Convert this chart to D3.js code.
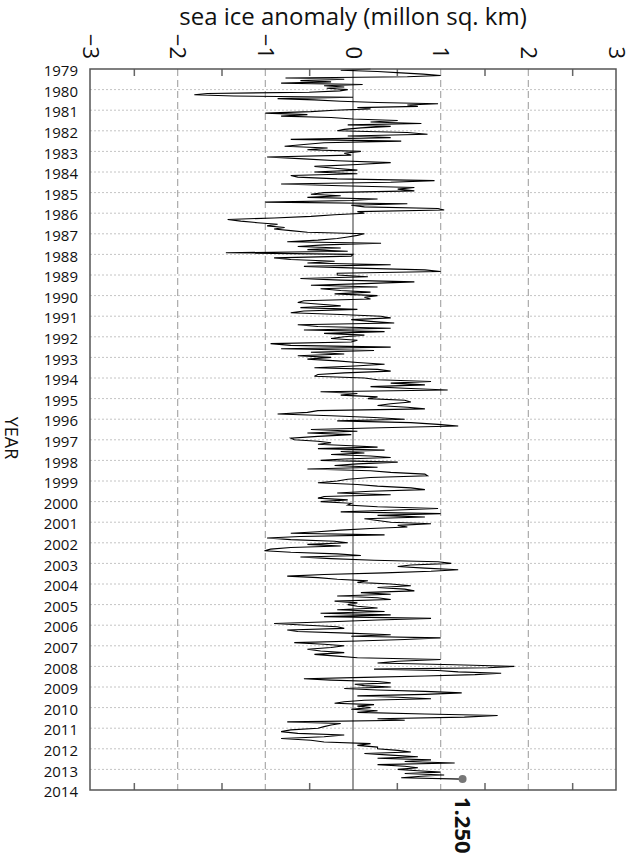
<!DOCTYPE html>
<html>
<head>
<meta charset="utf-8">
<script src="https://cdn.jsdelivr.net/npm/d3@7"></script>
<style>
    body { margin: 0; background: #fff; }
    text { font-family: "Open Sans", sans-serif; fill: #111; }
</style>
</head>
<body>
<div id="chart-area"></div>
<script>
// Anomaly readings per year (million sq. km), in time order
var v1979 = [0.2, -0.14, 0.28, 0.55, 0.8, 1.0, 0.62, -0.77, -0.1, -0.6, -0.25, -0.82, 0.11, -0.33, -0.1, -0.3];
var v1980 = [-0.06, -0.15, -0.5, -1.66, -1.81, -1.36, 0.0, -0.86, -0.44, -0.14, 0.28, 0.97, 0.62, 0.74, 0.05, 0.2];
var v1981 = [-0.21, -0.48, -1.0, -0.52, -0.82, -0.25, 0.0, 0.51, 0.2, 0.78, -0.06, 0.43, 0.09, -0.1];
var v1982 = [-0.18, 0.62, 0.85, -0.06, 0.43, -0.71, 0.55, -0.33, -0.56, -0.78, -0.29, -0.52];
var v1983 = [0.09, -0.1, -0.02, -0.98, -0.56, -0.18, 0.43, 0.05, -0.44, -0.21, 0.05];
var v1984 = [-0.44, 0.05, -0.71, -0.63, -0.18, 0.93, 0.43, -0.82, -0.14, 0.7, 0.51, 0.7];
var v1985 = [-0.33, -0.48, -0.14, -0.52, 0.28, -0.02, -1.0, 0.62, -0.02, 0.13, 0.97, 1.04, 0.05];
var v1986 = [0.13, -0.21, -0.48, -0.9, -1.43, -1.28, -1.09, -0.86, -0.98, -0.78, -0.9, -0.71, -0.52];
var v1987 = [0.13, 0.05, -0.06, -0.18, -0.4, -0.75, 0.32, -0.33, -0.63, -0.14, -0.52, -0.06, -1.45];
var v1988 = [0.0, -0.02, -0.9, -0.71, -0.21, -0.52, 0.43, -0.56, 0.05, 0.82, 1.0, -0.18];
var v1989 = [-0.18, 0.17, -0.6, -0.14, 0.7, 0.13, -0.48, 0.28, -0.37, -0.14, 0.2, -0.21];
var v1990 = [0.28, 0.13, 0.2, -0.56, -0.63, -0.37, -0.14, -0.6, 0.05, -0.56, -0.71, -0.14];
var v1991 = [0.32, 0.43, -0.02, 0.2, 0.47, -0.63, -0.4, 0.43, -0.56, 0.36, -0.33, 0.13];
var v1992 = [-0.1, -0.25, 0.05, -0.02, -0.94, -0.71, 0.43, -0.82, 0.24, -0.48, -0.1, -0.63];
var v1993 = [-0.25, -0.52, -0.18, 0.05, 0.36, 0.02, -0.44, 0.28, 0.43, -0.1, -0.4, -0.44];
var v1994 = [0.13, 0.28, 0.89, 0.43, 0.82, 0.2, 0.59, 1.08, -0.37, 0.05, -0.14, 0.28];
var v1995 = [0.17, 0.59, 0.66, 0.43, 0.28, 0.62, 0.82, -0.4, -0.52, -0.86, -0.25, 0.24];
var v1996 = [0.59, -0.18, 0.66, 0.97, 1.2, 0.32, -0.48, 0.05, -0.52, -0.02, -0.4, -0.71];
var v1997 = [-0.67, -0.4, -0.25, -0.4, -0.02, 0.28, -0.4, 0.36, -0.14, 0.13, -0.25, 0.2, 0.43, -0.1];
var v1998 = [-0.37, 0.51, 0.05, -0.21, 0.28, -0.52, 0.2, 0.43, 0.82, 0.85, 0.2, -0.06];
var v1999 = [-0.18, -0.4, 0.05, 0.28, 0.66, 0.82, 0.2, -0.18, 0.43, -0.33, -0.4, -0.06];
var v2000 = [-0.37, -0.02, -0.06, 0.28, 0.97, 0.43, -0.14, 1.0, 0.28, 0.82, 0.13, 0.28];
var v2001 = [0.43, 0.89, 0.51, 0.62, 0.2, -0.14, -0.4, -0.71, 0.36, -0.6, -0.98, -0.71, -0.21];
var v2002 = [-0.06, -0.52, -0.14, -0.71, -0.94, -1.01, -0.71, -0.18, 0.09, -0.6, -0.25, 0.24, 0.97];
var v2003 = [1.12, 0.66, 0.51, 0.82, 1.2, 0.89, 0.36, -0.33, -0.75, -0.4, -0.18, 0.17, 0.05];
var v2004 = [0.43, 0.66, 0.28, 0.59, 0.7, 0.09, 0.43, -0.18, 0.28, 0.43, -0.21, 0.05];
var v2005 = [-0.06, 0.05, 0.28, -0.18, 0.36, -0.37, 0.43, -0.33, 0.89, 0.28, -0.25, -0.9];
var v2006 = [-0.52, -0.18, -0.1, -0.75, -0.63, -0.06, 0.43, -0.02, 1.0, 0.59, 0.05, -0.67, -0.33];
var v2007 = [-0.1, -0.25, -0.52, -0.37, -0.1, -0.44, -0.18, 0.05, 1.0, 0.51, 0.28, 1.16];
var v2008 = [1.84, 1.54, 0.24, 0.97, 1.2, 1.69, 1.39, 0.82, 0.13, -0.56, -0.25, 0.28, 0.43, 0.02, 0.13];
var v2009 = [0.43, -0.1, 0.28, 0.82, 1.24, 0.82, 0.05, 0.51, 0.89, 0.13, -0.1, -0.21, 0.24, 0.05];
var v2010 = [0.2, -0.02, 0.28, 0.05, 0.82, 1.65, 1.27, 0.28, 0.59, -0.75, -0.14, -0.25, -0.33];
var v2011 = [-0.4, -0.71, -0.82, -0.63, -0.1, -0.33, -0.82, -0.48, -0.33, 0.2, 0.05, 0.28];
var v2012 = [0.28, 0.51, 0.66, 0.13, 0.43, 0.74, 0.28, 0.89, 0.59, 1.16, 0.28, 0.59, 0.74];
var v2013 = [0.51, 0.74, 1.0, 0.59, 1.04, 0.78, 0.55, 1.25];

var seriesByYear = [v1979, v1980, v1981, v1982, v1983, v1984, v1985, v1986, v1987, v1988,
    v1989, v1990, v1991, v1992, v1993, v1994, v1995, v1996, v1997, v1998, v1999, v2000,
    v2001, v2002, v2003, v2004, v2005, v2006, v2007, v2008, v2009, v2010, v2011, v2012, v2013];

var yearTicks = d3.range(1979, 2015);
var xTicks = [-3, -2, -1, 0, 1, 2, 3];
var xMinorTicks = [-2.5, -1.5, -0.5, 0.5, 1.5, 2.5];
var lastDate = 2013.47;      // last reading, mid 2013
var lastValue = 1.250;

var margin = { left: 90, right: 16, top: 69, bottom: 74 };
var width = 632 - margin.left - margin.right,
    height = 864 - margin.top - margin.bottom;

var svg = d3.select("#chart-area")
    .append("svg")
        .attr("width", 632)
        .attr("height", 864);

var g = svg.append("g")
    .attr("transform", "translate(" + margin.left + ", " + margin.top + ")");

// Scales: value across, time down
var x = d3.scaleLinear().domain([-3, 3]).range([0, width]);
var y = d3.scaleLinear().domain([1979, 2014]).range([0, height]);

// Build points, spread evenly inside each year
var points = [];
seriesByYear.forEach(function(vals, i) {
    var yr = 1979 + i;
    vals.forEach(function(v, j) {
        var t = (yr < 2013) ? yr + j / vals.length
                            : yr + (lastDate - yr) * j / (vals.length - 1);
        points.push({ t: t, v: v });
    });
});

// Horizontal dotted grid at each year
g.append("g").selectAll("line")
    .data(yearTicks.slice(1, -1))
    .enter().append("line")
        .attr("x1", 0).attr("x2", width)
        .attr("y1", function(d){ return y(d); })
        .attr("y2", function(d){ return y(d); })
        .attr("stroke", "#c4c4c4")
        .attr("stroke-width", 1)
        .attr("stroke-dasharray", "2,2");

// Vertical dashed grid
g.append("g").selectAll("line")
    .data([-2, -1, 1, 2])
    .enter().append("line")
        .attr("x1", function(d){ return x(d); })
        .attr("x2", function(d){ return x(d); })
        .attr("y1", 0).attr("y2", height)
        .attr("stroke", "#aaa")
        .attr("stroke-width", 1.2)
        .attr("stroke-dasharray", "7,4");

// Zero line
g.append("line")
    .attr("x1", x(0)).attr("x2", x(0))
    .attr("y1", 0).attr("y2", height)
    .attr("stroke", "#555")
    .attr("stroke-width", 1.2);

// Minor ticks, inside top and bottom
g.append("g")
    .call(d3.axisTop(x).tickValues(xMinorTicks).tickSize(-7).tickFormat(""))
    .call(function(a){ a.select(".domain").remove(); })
    .selectAll("line").attr("stroke", "#666").attr("stroke-width", 1.5);

g.append("g")
    .attr("transform", "translate(0," + height + ")")
    .call(d3.axisBottom(x).tickValues(xMinorTicks).tickSize(-7).tickFormat(""))
    .call(function(a){ a.select(".domain").remove(); })
    .selectAll("line").attr("stroke", "#666").attr("stroke-width", 1.5);

// Top labels, turned a quarter clockwise
var xAxisGroup = g.append("g")
    .call(d3.axisTop(x).tickValues(xTicks).tickSize(0).tickFormat(d3.format("d")));
xAxisGroup.select(".domain").remove();
xAxisGroup.selectAll("text")
    .attr("font-size", "22px")
    .attr("font-family", "'Open Sans', sans-serif")
    .attr("text-anchor", "end")
    .attr("y", 0).attr("dy", "0.35em")
    .attr("transform", "translate(0,-10) rotate(90)");

// Year labels
var yAxisGroup = g.append("g")
    .call(d3.axisLeft(y).tickValues(yearTicks).tickSize(0).tickPadding(12).tickFormat(d3.format("d")));
yAxisGroup.select(".domain").remove();
yAxisGroup.selectAll("text")
    .attr("font-size", "15px")
    .attr("font-family", "'Open Sans', sans-serif")
    .attr("dy", "0.45em");

// Data line
var line = d3.line()
    .x(function(d){ return x(d.v); })
    .y(function(d){ return y(d.t); });

g.append("path")
    .datum(points)
    .attr("fill", "none")
    .attr("stroke", "#000")
    .attr("stroke-width", 1.1)
    .attr("d", line);

// Last point marker and label
var last = points[points.length - 1];
g.append("circle")
    .attr("cx", x(last.v))
    .attr("cy", y(last.t))
    .attr("r", 4)
    .attr("fill", "#777");

g.append("text")
    .attr("transform", "translate(" + x(lastValue) + "," + (height + 7) + ") rotate(90)")
    .attr("dy", "0.35em")
    .attr("font-size", "22px")
    .attr("font-weight", "bold")
    .text(d3.format(".3f")(lastValue));

// Frame
g.append("rect")
    .attr("width", width)
    .attr("height", height)
    .attr("fill", "none")
    .attr("stroke", "#555")
    .attr("stroke-width", 1.5);

// Titles
g.append("text")
    .attr("x", width / 2)
    .attr("y", -44)
    .attr("font-size", "24px")
    .attr("text-anchor", "middle")
    .text("sea ice anomaly (millon sq. km)");

svg.append("text")
    .attr("transform", "translate(5," + (margin.top + 369) + ") rotate(90)")
    .attr("font-size", "18px")
    .attr("text-anchor", "middle")
    .text("YEAR");
</script>
</body>
</html>
